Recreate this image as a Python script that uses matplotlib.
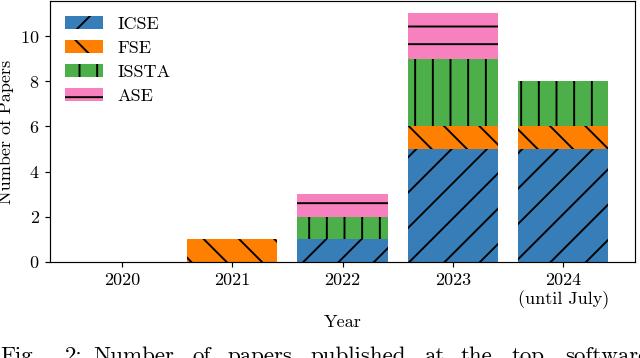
import matplotlib
matplotlib.use('Agg')
import matplotlib.pyplot as plt
import numpy as np

plt.rcParams['font.family'] = 'cmr10'
plt.rcParams['mathtext.fontset'] = 'cm'
plt.rcParams['axes.formatter.use_mathtext'] = True
plt.rcParams['hatch.linewidth'] = 1.3
plt.rcParams['hatch.color'] = 'black'

years = ['2020', '2021', '2022', '2023', '2024\n(until July)']
venues = ['ICSE', 'FSE', 'ISSTA', 'ASE']
icse = [0, 0, 1, 5, 5]
fse = [0, 1, 0, 1, 1]
issta = [0, 0, 1, 3, 2]
ase = [0, 0, 1, 2, 0]
colors = ['#377eb8', '#ff7f00', '#4daf4a', '#f781bf']
hatches = ['/', '\\', '|', '-']

caption_words = ['Fig.', '2:', 'Number', 'of', 'papers', 'published', 'at', 'the', 'top', 'software']
caption_x = [0, 65, 93, 192, 227, 310, 424, 461, 512, 565]

dpi = 106
fig = plt.figure(figsize=(640 / dpi, 358 / dpi), dpi=dpi)
ax = fig.add_axes([50 / 640, 96 / 358, 585 / 640, 261 / 358])

x = np.arange(len(years))
bottom = np.zeros(len(years))
for name, vals, col, h in zip(venues, [icse, fse, issta, ase], colors, hatches):
    ax.bar(x, vals, width=0.82, bottom=bottom, color=col, hatch=h,
           edgecolor='black', linewidth=0, label=name)
    bottom += np.array(vals)

fs = 12.3
ax.set_xticks(x)
ax.set_xticklabels(years, fontsize=fs)
ax.tick_params(axis='y', labelsize=fs)
ax.set_yticks([0, 2, 4, 6, 8, 10])
ax.set_xlabel('Year', fontsize=fs)
ax.set_ylabel('Number of Papers', fontsize=fs)
ax.legend(loc='upper left', fontsize=fs, handlelength=2.1, edgecolor='white',
          framealpha=1, labelspacing=0.45, borderaxespad=0.45)

for w, px in zip(caption_words, caption_x):
    fig.text(px / 640, -3.5 / 358, w, fontsize=15.6, ha='left', va='baseline')

fig.savefig('out.png', dpi=dpi)
